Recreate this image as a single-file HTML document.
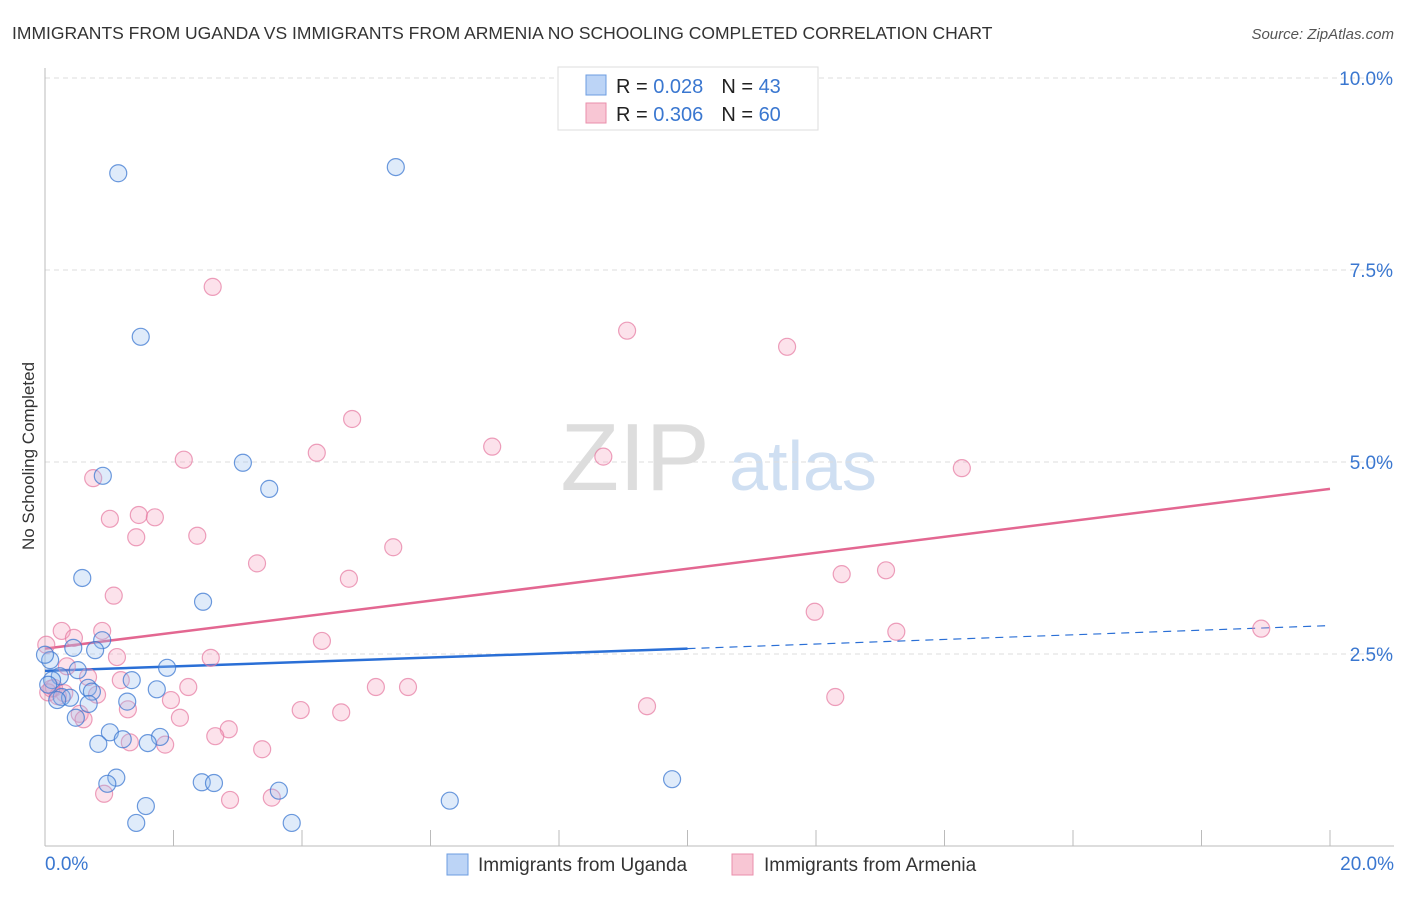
<!DOCTYPE html>
<html><head><meta charset="utf-8"><style>
body{margin:0;background:#fff;font-family:"Liberation Sans",sans-serif;}
svg text{font-family:"Liberation Sans",sans-serif;}
</style></head><body>
<svg id="chart" width="1406" height="892" xmlns="http://www.w3.org/2000/svg">
<text x="12" y="39" font-size="17.5" fill="#333">IMMIGRANTS FROM UGANDA VS IMMIGRANTS FROM ARMENIA NO SCHOOLING COMPLETED CORRELATION CHART</text>
<text x="1394" y="39" font-size="15" fill="#555" font-style="italic" text-anchor="end">Source: ZipAtlas.com</text>
<text transform="translate(34,456) rotate(-90)" font-size="17" fill="#333" text-anchor="middle">No Schooling Completed</text>
<g><text x="635" y="490" font-size="96" fill="#ddd" font-family="Liberation Serif" text-anchor="middle">ZIP</text><text x="803" y="490" font-size="70" fill="#cfdff2" text-anchor="middle">atlas</text></g>
<g id="grid"></g><g id="axes"></g><g id="trend"></g><g id="pts"></g>
<g>
<rect x="558" y="67" width="260" height="63" fill="#fff" stroke="#ddd"/>
<rect x="586" y="75" width="20" height="20" fill="#bcd4f6" stroke="#6d9de0"/>
<rect x="586" y="103" width="20" height="20" fill="#f8c6d4" stroke="#ea8fab"/>
<text x="616" y="93" font-size="20" fill="#222">R = <tspan fill="#3a77d0">0.028</tspan><tspan dx="18">N = </tspan><tspan fill="#3a77d0">43</tspan></text>
<text x="616" y="121" font-size="20" fill="#222">R = <tspan fill="#3a77d0">0.306</tspan><tspan dx="18">N = </tspan><tspan fill="#3a77d0">60</tspan></text>
</g>
<g>
<rect x="447" y="854" width="21" height="21" fill="#bcd4f6" stroke="#6d9de0"/>
<text x="478" y="871" font-size="19" fill="#333">Immigrants from Uganda</text>
<rect x="732" y="854" width="21" height="21" fill="#f8c6d4" stroke="#ea8fab"/>
<text x="764" y="871" font-size="19" fill="#333">Immigrants from Armenia</text>
</g>
</svg>
<script>
const yTicks=[2.5,5.0,7.5,10.0];
const yTickLabels=["2.5%","5.0%","7.5%","10.0%"];
const xTickLabels=["0.0%","20.0%"];
const ugandaX=[1.14,5.46,1.49,3.08,0.90,3.49,0.58,2.46,0.89,0.44,0.78,0.08,1.90,0.51,0.23,0.11,1.35,0.67,1.74,0.73,0.26,0.39,0.19,1.28,0.68,0.48,1.01,0.83,1.21,1.79,1.60,9.76,1.11,0.97,2.44,2.63,3.64,1.57,6.30,1.42,3.84,0.0,0.05];
const ugandaY=[8.76,8.84,6.63,4.99,4.82,4.65,3.49,3.18,2.68,2.58,2.55,2.42,2.32,2.29,2.21,2.16,2.16,2.06,2.04,2.01,1.94,1.93,1.90,1.88,1.85,1.67,1.48,1.33,1.39,1.42,1.34,0.87,0.89,0.81,0.83,0.82,0.72,0.52,0.59,0.30,0.30,2.49,2.10];
const armeniaX=[2.61,9.06,11.55,4.78,6.96,4.23,2.16,8.69,14.27,0.75,1.46,1.71,1.01,1.42,2.37,5.42,3.30,4.73,12.40,13.09,1.07,11.98,0.26,0.89,13.25,18.93,0.45,4.31,0.02,1.12,2.58,0.34,0.67,1.18,0.14,2.23,5.15,5.65,0.30,0.81,1.96,12.30,1.29,3.98,4.61,9.37,0.54,2.10,2.86,2.65,1.32,1.87,3.38,0.92,2.88,3.53,0.05,0.20,0.60,0.10];
const armeniaY=[7.28,6.71,6.50,5.56,5.20,5.12,5.03,5.07,4.92,4.79,4.31,4.28,4.26,4.02,4.04,3.89,3.68,3.48,3.54,3.59,3.26,3.05,2.80,2.80,2.79,2.83,2.71,2.67,2.62,2.46,2.45,2.34,2.20,2.16,2.06,2.07,2.07,2.07,1.99,1.97,1.90,1.94,1.78,1.77,1.74,1.82,1.72,1.67,1.52,1.43,1.35,1.32,1.26,0.68,0.60,0.63,2.00,1.95,1.65,2.05];
const ugandaTrend=[2.28,2.57,2.87];
const armeniaTrend=[2.57,4.65];
const NS="http://www.w3.org/2000/svg";
const X=v=>45+v*64.25, Y=v=>846-v*76.8;
function mk(t,a,p){const e=document.createElementNS(NS,t);for(const k in a)e.setAttribute(k,a[k]);document.getElementById(p).appendChild(e);return e;}
yTicks.forEach((v,i)=>{
 const l=mk('line',{x1:45,x2:1394,y1:Y(v),y2:Y(v),stroke:'#ddd','stroke-dasharray':'5,4'},'grid');
 
 
 const t=mk('text',{x:1393,y:Y(v)+7,'font-size':19,fill:'#3a77d0','text-anchor':'end'},'axes');t.textContent=yTickLabels[i];
 
 
});
const g=mk('line',{x1:45,x2:1394,y1:Y(10),y2:Y(10),stroke:'#ddd','stroke-dasharray':'5,4'},'grid');
mk('line',{x1:45,x2:45,y1:68,y2:846,stroke:'#bbb'},'axes');
mk('line',{x1:45,x2:1394,y1:846,y2:846,stroke:'#bbb'},'axes');
for(let i=1;i<=10;i++){mk('line',{x1:X(i*2),x2:X(i*2),y1:830,y2:846,stroke:'#bbb'},'axes');}
[[0,'start',45],[20,'end',1394]].forEach((d,i)=>{const t=mk('text',{x:d[2],y:870,'font-size':19,fill:'#3a77d0','text-anchor':d[1]},'axes');t.textContent=xTickLabels[i];
 
 });
const bt=mk('line',{x1:X(0),y1:Y(ugandaTrend[0]),x2:X(10),y2:Y(ugandaTrend[1]),stroke:'#2a6fd6','stroke-width':2.5},'trend');


const bd=mk('line',{x1:X(10),y1:Y(ugandaTrend[1]),x2:X(20),y2:Y(ugandaTrend[2]),stroke:'#2a6fd6','stroke-width':1.2,'stroke-dasharray':'8,6'},'trend');


const pt=mk('line',{x1:X(0),y1:Y(armeniaTrend[0]),x2:X(20),y2:Y(armeniaTrend[1]),stroke:'#e36791','stroke-width':2.5},'trend');


armeniaX.forEach((v,i)=>{const c=mk('circle',{cx:X(v),cy:Y(armeniaY[i]),r:8.5,fill:'rgba(244,160,188,0.3)',stroke:'rgba(230,120,160,0.7)','stroke-width':1.2},'pts');
 
 });
ugandaX.forEach((v,i)=>{const c=mk('circle',{cx:X(v),cy:Y(ugandaY[i]),r:8.5,fill:'rgba(150,190,240,0.3)',stroke:'rgba(60,120,210,0.75)','stroke-width':1.2},'pts');
 
 });
</script>
</body></html>
